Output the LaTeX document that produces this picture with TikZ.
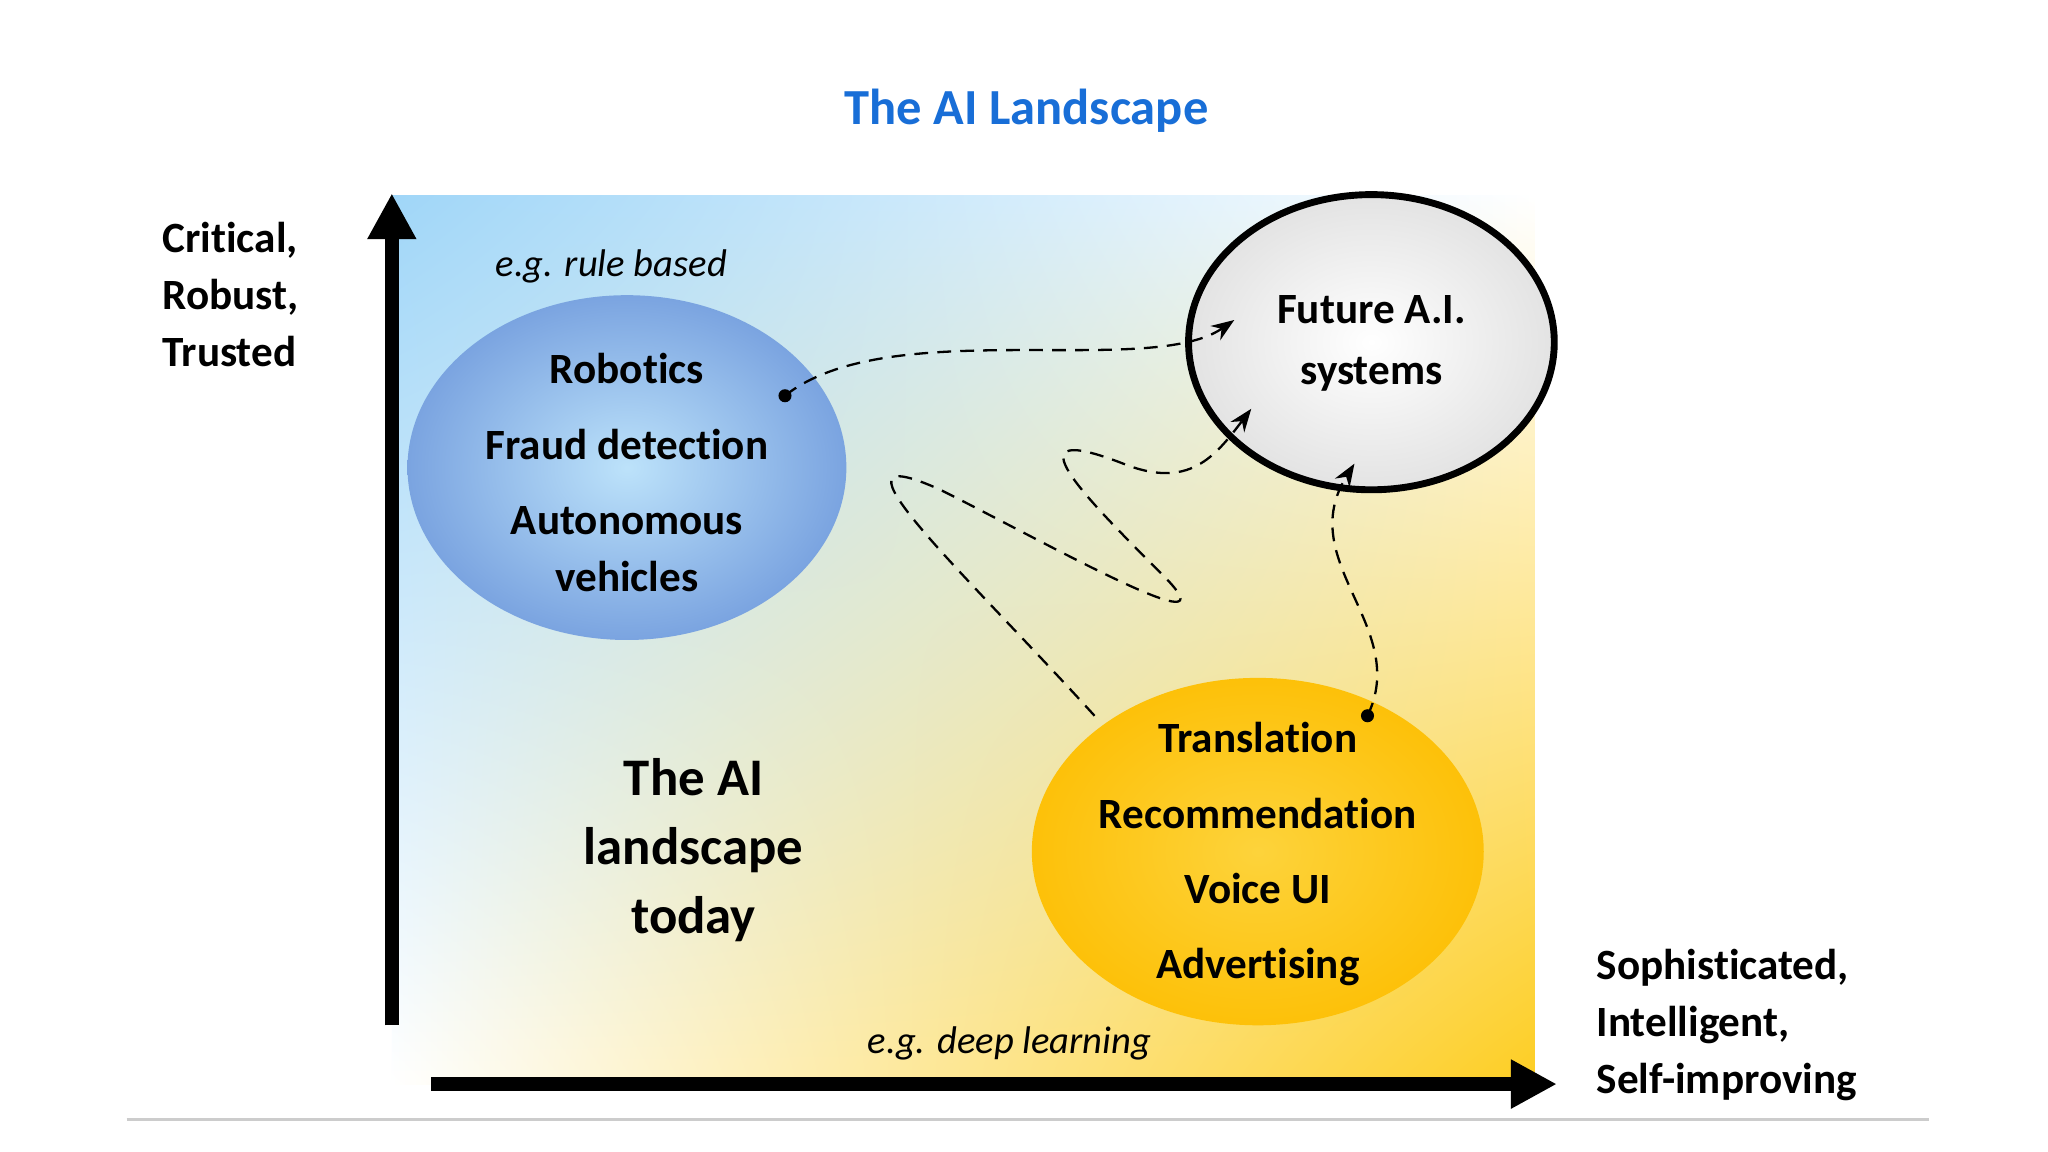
\documentclass[tikz,border=0pt]{standalone}
\usepackage{fontspec}
\setmainfont[Ligatures=NoCommon]{Carlito}
\usetikzlibrary{arrows.meta,shadings}
\definecolor{ttl}{RGB}{24,110,215}
\definecolor{lblue}{RGB}{160,214,248}
\definecolor{yel}{RGB}{253,200,10}
\tikzset{
 lbl/.style={font=\fontsize{9.4pt}{10.4pt}\selectfont\bfseries, align=center},
 it/.style={font=\fontsize{8.4pt}{10pt}\selectfont\itshape},
 dashc/.style={densely dashed, line width=0.5pt, -{Stealth[length=5pt]}},
 ax/.style={line width=3pt, -{Triangle[length=10pt,width=10pt]}}
}
\begin{document}
\begin{tikzpicture}[x=0.01cm,y=-0.01cm]
\useasboundingbox (0,0) rectangle (1568,882);
\fill[white] (0,0) rectangle (1568,882);
\node[font=\fontsize{11pt}{13pt}\selectfont\bfseries, text=ttl] (title) at (786,85) {The AI Landscape};
% background gradient
\shade[upper left=lblue, upper right=white, lower left=white, lower right=yel!90] (300,150) rectangle (1175,830);
\draw[gray!40, line width=0.6pt] (97,857) -- (1477,857);
% axes
\coordinate (vy0) at (300,785); \coordinate (vy1) at (300,148);
\draw[ax] (vy0) -- (vy1);
\coordinate (hx0) at (330,830); \coordinate (hx1) at (1192,830);
\draw[ax] (hx0) -- (hx1);
\node[lbl, align=left, anchor=north west] (ylab) at (112,158) {Critical,\\[2pt]Robust,\\[2pt]Trusted};
\node[lbl, align=left, anchor=north west] (xlab) at (1210,714) {Sophisticated,\\[2pt]Intelligent,\\[2pt]Self-improving};
% ellipses
\shade[inner color=lblue!70!white, outer color=lblue!85!blue!90!black] (480,358) ellipse [x radius=168, y radius=132];
\node[lbl] (blue) at (480,362) {Robotics\\[6pt]Fraud detection\\[6pt]Autonomous\\[2pt]vehicles};
\shade[inner color=white, outer color=gray!22] (1050,262) ellipse [x radius=140, y radius=113];
\draw[line width=1.5pt] (1050,262) ellipse [x radius=140, y radius=113];
\node[lbl] (grey) at (1050,263) {Future A.I.\\[3pt]systems};
\shade[inner color=yel!80!white, outer color=yel!90!orange] (963,652) ellipse [x radius=173, y radius=133];
\node[lbl] (yell) at (963,654) {Translation\\[6pt]Recommendation\\[6pt]Voice UI\\[6pt]Advertising};
\node[it] (rule) at (468,204) {e.g. rule based};
\node[it] (deep) at (773,799) {e.g. deep learning};
\node[font=\fontsize{11.5pt}{15pt}\selectfont\bfseries, align=center] (today) at (531,651) {The AI\\landscape\\today};
% connectors
\coordinate (d1) at (601,303); \coordinate (a1) at (945,245);
\fill (d1) circle (5);
\draw[dashc] (d1) .. controls (680,240) and (880,290) .. (a1);
\coordinate (s2) at (838,548); \coordinate (a2) at (958,313);
\draw[dashc] (s2) .. controls (740,440) and (620,330) .. (720,375)
  .. controls (800,415) and (950,500) .. (890,440)
  .. controls (830,380) and (770,320) .. (860,355)
  .. controls (910,375) and (930,350) .. (a2);
\coordinate (d3) at (1047,548); \coordinate (a3) at (1037,355);
\fill (d3) circle (5);
\draw[dashc] (d3) .. controls (1080,480) and (990,430) .. (a3);
\end{tikzpicture}
\end{document}
